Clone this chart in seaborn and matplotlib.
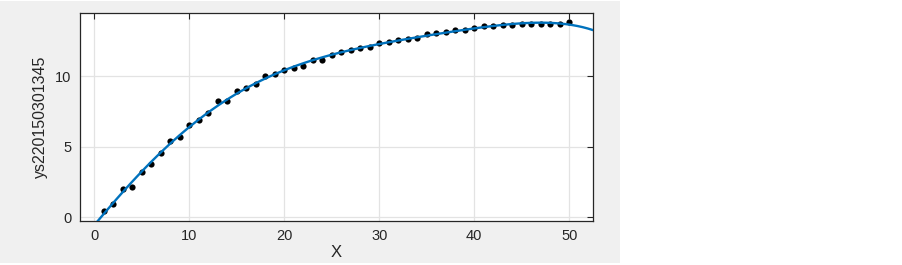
import matplotlib
matplotlib.use("Agg")
import matplotlib.pyplot as plt
import seaborn as sns
import numpy as np
from matplotlib.patches import Rectangle

# measured samples (x = 1..50)
x_vals = list(range(1, 51))
y_vals = [0.43, 0.92, 2.01, 2.15, 3.22, 3.81, 4.55, 5.45, 5.71, 6.52,
          6.89, 7.39, 8.22, 8.29, 8.93, 9.19, 9.47, 10.02, 10.16, 10.47,
          10.61, 10.75, 11.13, 11.18, 11.53, 11.70, 11.84, 12.01, 12.10, 12.36,
          12.45, 12.55, 12.69, 12.72, 12.98, 13.10, 13.17, 13.26, 13.26, 13.45,
          13.55, 13.57, 13.67, 13.67, 13.72, 13.72, 13.74, 13.74, 13.74, 13.83]
x_ticks = [0, 10, 20, 30, 40, 50]
y_ticks = [0, 5, 10]

sns.set_theme(style="whitegrid")
plt.rcParams['font.family'] = ['Liberation Sans', 'DejaVu Sans']

fig = plt.figure(figsize=(9.03, 2.65), dpi=100)
fig.patch.set_facecolor("white")
# matlab-style grey figure panel on the left part
fig.patches.append(Rectangle((0, 2 / 265), 620 / 903, 262 / 265, transform=fig.transFigure,
                             facecolor="#f0f0f0", edgecolor="none", zorder=-10))

ax = fig.add_axes([80 / 903, 44 / 265, 513 / 903, 208 / 265])
ax.set_facecolor("white")
ax.set_xlim(-1.5, 52.5)
ax.set_ylim(-0.26, 14.5)

sns.regplot(x=np.array(x_vals), y=np.array(y_vals), order=5, ci=None, truncate=False, ax=ax,
            scatter_kws=dict(color="black", s=20, linewidths=0, alpha=1, zorder=3),
            line_kws=dict(color="#0072BD", lw=1.7, zorder=4))

ax.set_xticks(x_ticks)
ax.set_yticks(y_ticks)
ax.set_xlabel("X", fontsize=12, color="#262626", labelpad=1)
ax.set_ylabel("ys220150301345", fontsize=11.5, color="#262626", labelpad=5)
ax.tick_params(direction="in", top=True, right=True, length=4, width=0.8,
               color="#262626", labelsize=10.5, labelcolor="#262626")
ax.tick_params(axis="x", pad=6)
ax.tick_params(axis="y", pad=6)
ax.grid(True, color="#e3e3e3", lw=0.9)
for sp in ax.spines.values():
    sp.set_color("#262626")
    sp.set_linewidth(0.9)

fig.savefig("out.png", dpi=100)
